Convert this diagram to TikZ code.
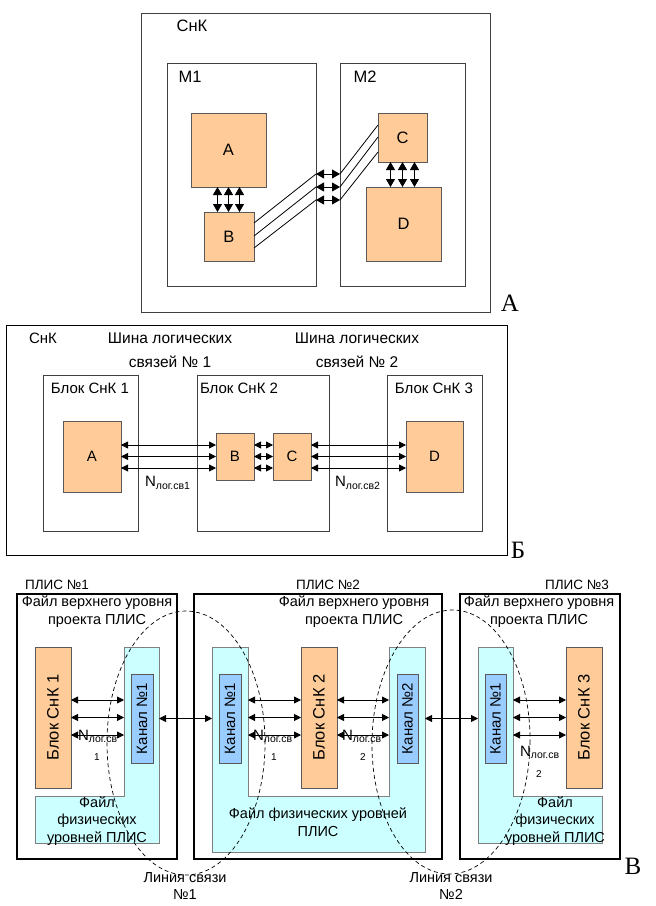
\documentclass[tikz,border=0pt]{standalone}
\usepackage{fontspec}
\setmainfont{Liberation Sans}
\newfontfamily\lserif{Liberation Serif}
\usetikzlibrary{arrows.meta,shapes.geometric}
\definecolor{orbox}{HTML}{FFCC99}
\definecolor{cyanf}{HTML}{CCFFFF}
\definecolor{chan}{HTML}{99CCFF}
\newcommand\mkbox[7]{\node[#2, minimum width={(#5)-(#3)}, minimum height={(#6)-(#4)}] (#1) at ({((#3)+(#5))/2},{((#4)+(#6))/2}) {#7};}
\begin{document}
\begin{tikzpicture}[x=1pt,y=-1pt,
 every node/.style={font=\fontsize{15}{18}\selectfont, inner sep=0pt, outer sep=0pt},
 atext/.style={font=\fontsize{16.5}{19}\selectfont},
 frame/.style={draw=black!75, line width=0.9pt},
 obox/.style={draw=black!65, line width=0.8pt, fill=orbox},
 kbox/.style={draw=black!65, line width=0.8pt, fill=chan},
 cfill/.style={draw=black!50, line width=0.8pt, fill=cyanf},
 pbox/.style={draw=black, line width=2.6pt},
 ghost/.style={draw=none},
 tda/.style={line width=0.8pt, {Triangle[length=8pt,width=9pt]}-{Triangle[length=8pt,width=9pt]}},
 mda/.style={line width=0.8pt, {Triangle[length=7pt,width=7pt]}-{Triangle[length=7pt,width=7pt]}},
 conn/.style={line width=0.8pt},
 ell/.style={draw, ellipse, dash pattern=on 4pt off 3pt, line width=0.7pt},
 big/.style={font=\lserif\fontsize{25}{25}\selectfont},
 sub/.style={font=\fontsize{10}{12}\selectfont},
 hdr/.style={align=center, font=\fontsize{14.5}{18}\selectfont},
 phy/.style={align=center, font=\fontsize{14.5}{17.5}\selectfont},
 plis/.style={font=\fontsize{13.5}{16}\selectfont},
 rot/.style={rotate=90, font=\fontsize{16.5}{19}\selectfont},
 krot/.style={rotate=90, font=\fontsize{15}{18}\selectfont},
]
\useasboundingbox (0,0) rectangle (656,906);
\fill[white] (0,0) rectangle (656,906);

% ---------- Section A ----------
\mkbox{tS}{frame}{141}{13}{490}{312}{}
\node[atext] (tSl) at (192,26) {СнК};
\mkbox{tM1}{frame}{167}{63}{316}{286}{}
\mkbox{tM2}{frame}{340}{63}{465}{286}{}
\node[atext] (tM1l) at (190,77) {M1};
\node[atext] (tM2l) at (365,77) {M2};
\mkbox{tA}{obox,atext}{191}{113}{266}{187}{A}
\mkbox{tB}{obox,atext}{204}{212}{254}{261}{B}
\mkbox{tC}{obox,atext}{378}{113}{427}{162}{C}
\mkbox{tD}{obox,atext}{366}{187}{441}{261}{D}
\foreach \dx in {-11,0,11}
  \draw[tda] ([xshift=\dx pt]tA.south) -- ([xshift=\dx pt]tA.south |- tB.north);
\foreach \dx in {-12,0,12}
  \draw[tda] ([xshift=\dx pt]tC.south) -- ([xshift=\dx pt]tC.south |- tD.north);
\coordinate (b1) at (316,174);
\coordinate (b2) at (316,187);
\coordinate (b3) at (316,200);
\coordinate (c1) at (340,174);
\coordinate (c2) at (340,187);
\coordinate (c3) at (340,200);
\draw[conn] ([yshift=13.5pt]tB.east) -- (b1);
\draw[conn] ([yshift=0.5pt]tB.east) -- (b2);
\draw[conn] ([yshift=-11.5pt]tB.east) -- (b3);
\draw[tda] (b1) -- (c1);
\draw[tda] (b2) -- (c2);
\draw[tda] (b3) -- (c3);
\draw[conn] (c1) -- ([yshift=12.5pt]tC.west);
\draw[conn] (c2) -- ([yshift=0.5pt]tC.west);
\draw[conn] (c3) -- ([yshift=-14.5pt]tC.west);
\node[big] (labA) at (510,303) {А};

% ---------- Section B ----------
\mkbox{mS}{draw=black, line width=0.9pt}{6}{325}{507}{555}{}
\node (mSl) at (43,338) {СнК};
\node[align=center, font=\fontsize{15.5}{24}\selectfont] (bus1) at (170,350) {Шина логических\\связей № 1};
\node[align=center, font=\fontsize{15.5}{24}\selectfont] (bus2) at (357,350) {Шина логических\\связей № 2};
\mkbox{mB1}{frame}{43}{375}{138}{531}{}
\mkbox{mB2}{frame}{197}{375}{329}{531}{}
\mkbox{mB3}{frame}{387}{375}{482}{531}{}
\node (mB1l) at (90,388) {Блок СнК 1};
\node[anchor=west] (mB2l) at (200,388) {Блок СнК 2};
\node (mB3l) at (434,388) {Блок СнК 3};
\mkbox{mA}{obox}{63}{421}{121}{492}{A}
\mkbox{mBb}{obox}{216}{433}{254}{480}{B}
\mkbox{mC}{obox}{273}{433}{311}{480}{C}
\mkbox{mD}{obox}{406}{421}{463}{492}{D}
\foreach \dy in {11.5,0,-11.5} {
  \draw[mda] ([yshift=\dy pt]mA.east) -- ([yshift=\dy pt]mBb.west);
  \draw[mda] ([yshift=\dy pt]mBb.east) -- ([yshift=\dy pt]mC.west);
  \draw[mda] ([yshift=\dy pt]mC.east) -- ([yshift=\dy pt]mD.west);
}
\node[anchor=west] (mN1) at (145,483) {N\textsubscript{лог.св1}};
\node[anchor=west] (mN2) at (335,483) {N\textsubscript{лог.св2}};
\node[big] (labB) at (518,550) {Б};

% ---------- Section V ----------
\node[plis] (p1l) at (57,585) {ПЛИС №1};
\node[plis] (p2l) at (328,585) {ПЛИС №2};
\node[plis] (p3l) at (577,585) {ПЛИС №3};
\mkbox{P1}{pbox}{17}{594}{177}{859}{}
\mkbox{P2}{pbox}{194}{594}{442}{859}{}
\mkbox{P3}{pbox}{460}{594}{620}{859}{}
\node[hdr] (h1) at (97,612) {Файл верхнего уровня\\проекта ПЛИС};
\node[hdr] (h2) at (354,612) {Файл верхнего уровня\\проекта ПЛИС};
\node[hdr] (h3) at (539,612) {Файл верхнего уровня\\проекта ПЛИС};
% ghost parts of the physical-level files
\mkbox{L1v}{ghost}{124}{647}{159}{843}{}
\mkbox{L1b}{ghost}{35}{796}{159}{843}{}
\mkbox{U2l}{ghost}{212}{647}{248}{852}{}
\mkbox{U2r}{ghost}{389}{647}{425}{852}{}
\mkbox{U2b}{ghost}{212}{796}{425}{852}{}
\mkbox{L3v}{ghost}{478}{647}{513}{843}{}
\mkbox{L3b}{ghost}{478}{796}{602}{843}{}
\draw[cfill] (L1v.north west) -- (L1v.north east) -- (L1b.south east) -- (L1b.south west)
  -- (L1b.north west) -- (L1b.north -| L1v.west) -- cycle;
\draw[cfill] (U2l.north west) -- (U2l.north east) -- (U2b.north -| U2l.east)
  -- (U2b.north -| U2r.west) -- (U2r.north west) -- (U2r.north east)
  -- (U2b.south east) -- (U2b.south west) -- cycle;
\draw[cfill] (L3v.north west) -- (L3v.north east) -- (L3b.north -| L3v.east)
  -- (L3b.north east) -- (L3b.south east) -- (L3b.south west) -- cycle;
\mkbox{Bk1}{obox}{35}{647}{71}{788}{}
\mkbox{Bk2}{obox}{301}{647}{337}{788}{}
\mkbox{Bk3}{obox}{566}{647}{602}{788}{}
\node[rot] (Bk1t) at (Bk1) {Блок СнК 1};
\node[rot] (Bk2t) at (Bk2) {Блок СнК 2};
\node[rot] (Bk3t) at (Bk3) {Блок СнК 3};
\mkbox{K1}{kbox}{131}{674}{153}{763}{}
\mkbox{K2a}{kbox}{219}{674}{241}{763}{}
\mkbox{K2b}{kbox}{397}{674}{418}{763}{}
\mkbox{K3}{kbox}{485}{674}{506}{763}{}
\node[krot] (K1t) at (K1) {Канал №1};
\node[krot] (K2at) at (K2a) {Канал №1};
\node[krot] (K2bt) at (K2b) {Канал №2};
\node[krot] (K3t) at (K3) {Канал №1};
\foreach \dy in {17.5,0,-17.5} {
  \draw[mda] ([yshift=\dy pt]Bk1.east) -- ([yshift=\dy pt]Bk1.east -| L1v.west);
  \draw[mda] ([yshift=\dy pt]Bk2.west) -- ([yshift=\dy pt]Bk2.west -| U2l.east);
  \draw[mda] ([yshift=\dy pt]Bk2.east) -- ([yshift=\dy pt]Bk2.east -| U2r.west);
  \draw[mda] ([yshift=\dy pt]Bk3.west) -- ([yshift=\dy pt]Bk3.west -| L3v.east);
}
\draw[mda] (L1v.east |- K1.center) -- (U2l.west |- K1.center);
\draw[mda] (U2r.east |- K2b.center) -- (L3v.west |- K2b.center);
\node[anchor=west] (n1) at (78,736) {N\textsubscript{лог.св}};
\node[sub] (n1b) at (97,757) {1};
\node[anchor=west] (n2) at (253,736) {N\textsubscript{лог.св}};
\node[sub] (n2b) at (274,757) {1};
\node[anchor=west] (n3) at (342,736) {N\textsubscript{лог.св}};
\node[sub] (n3b) at (363,757) {2};
\node[anchor=west] (n4) at (520,752) {N\textsubscript{лог.св}};
\node[sub] (n4b) at (539,774) {2};
\node[phy] (f1) at (97,821) {Файл\\физических\\уровней ПЛИС};
\node[phy] (f2) at (318,822) {Файл физических уровней\\ПЛИС};
\node[phy] (f3) at (555,821) {Файл\\физических\\уровней ПЛИС};
\node[ell, minimum width=158, minimum height=264] (e1) at (186,743) {};
\node[ell, minimum width=158, minimum height=264, rotate=-1] (e2) at (451,742) {};
\node[align=center, font=\fontsize{14.5}{17}\selectfont] (ln1) at (185,886) {Линия связи\\№1};
\node[align=center, font=\fontsize{14.5}{17}\selectfont] (ln2) at (451,886) {Линия связи\\№2};
\node[big] (labV) at (633,866) {В};
\end{tikzpicture}
\end{document}
